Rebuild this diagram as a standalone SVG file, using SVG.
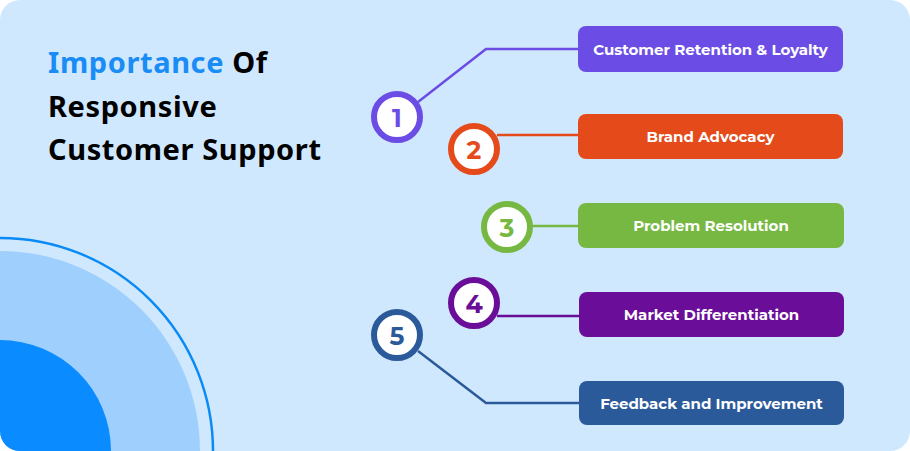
<svg xmlns="http://www.w3.org/2000/svg" width="910" height="451" viewBox="0 0 910 451">
<defs>
<clipPath id="bgclip"><rect x="0" y="0" width="910" height="451" rx="20" ry="20"/></clipPath>
<style>
.title{font-family:"Noto Sans","Open Sans","DejaVu Sans",sans-serif;font-weight:700;font-size:29px;letter-spacing:0.6px;fill:#000}
.lbl{font-family:"Montserrat","Open Sans","Noto Sans",sans-serif;font-weight:700;font-size:15px;fill:#fff;text-anchor:middle;dominant-baseline:central}
.num{font-family:"Montserrat","Open Sans","Noto Sans",sans-serif;font-weight:700;font-size:25px;text-anchor:middle;dominant-baseline:central}
.ring{fill:#fff;stroke-width:6}
.conn{fill:none;stroke-width:2.5}
</style>
</defs>
<rect x="0" y="0" width="910" height="451" fill="#fff"/>
<g clip-path="url(#bgclip)">
<rect x="0" y="0" width="910" height="451" fill="#d0e8fd"/>
<circle cx="0" cy="451" r="213" fill="none" stroke="#0a8af5" stroke-width="2.5"/>
<circle cx="0" cy="451" r="200" fill="#9fd0fd"/>
<circle cx="0" cy="451" r="111" fill="#0a8bff"/>
</g>
<g id="title">
<text class="title" x="48" y="73"><tspan fill="#1a8cf5">Importance</tspan> Of</text>
<text class="title" x="48" y="117">Responsive</text>
<text class="title" x="48" y="160">Customer Support</text>
</g>
<g id="connectors">
<polyline class="conn" stroke="#6b4de6" points="418,102 486,49 578,49"/>
<line class="conn" stroke="#e44a1a" x1="497" y1="135" x2="578" y2="135"/>
<line class="conn" stroke="#77b843" x1="530" y1="226" x2="578" y2="226"/>
<line class="conn" stroke="#6a0d99" x1="497" y1="316" x2="579" y2="316"/>
<polyline class="conn" stroke="#2b5a9b" points="418,351 486,403 579,403"/>
</g>
<g id="node1">
<rect x="578" y="26" width="265" height="46" rx="8" fill="#6b4de6"/>
<text class="lbl" x="710.5" y="49">Customer Retention &amp; Loyalty</text>
<circle class="ring" cx="397" cy="117" r="23" stroke="#6b4de6"/>
<text class="num" x="397" y="118" fill="#6b4de6">1</text>
</g>
<g id="node2">
<rect x="578" y="114" width="265" height="45" rx="8" fill="#e44a1a"/>
<text class="lbl" x="710.5" y="136.5">Brand Advocacy</text>
<circle class="ring" cx="474" cy="149" r="23" stroke="#e44a1a"/>
<text class="num" x="474" y="150" fill="#e44a1a">2</text>
</g>
<g id="node3">
<rect x="578" y="203" width="266" height="45" rx="8" fill="#77b843"/>
<text class="lbl" x="711" y="225.5">Problem Resolution</text>
<circle class="ring" cx="507" cy="227" r="23" stroke="#77b843"/>
<text class="num" x="507" y="228" fill="#77b843">3</text>
</g>
<g id="node4">
<rect x="579" y="292" width="265" height="45" rx="8" fill="#6a0d99"/>
<text class="lbl" x="711.5" y="314.5">Market Differentiation</text>
<circle class="ring" cx="474" cy="303" r="23" stroke="#6a0d99"/>
<text class="num" x="474" y="304" fill="#6a0d99">4</text>
</g>
<g id="node5">
<rect x="579" y="381" width="265" height="44" rx="8" fill="#2b5a9b"/>
<text class="lbl" x="711.5" y="403">Feedback and Improvement</text>
<circle class="ring" cx="397" cy="335" r="23" stroke="#2b5a9b"/>
<text class="num" x="397" y="336" fill="#2b5a9b">5</text>
</g>
</svg>
